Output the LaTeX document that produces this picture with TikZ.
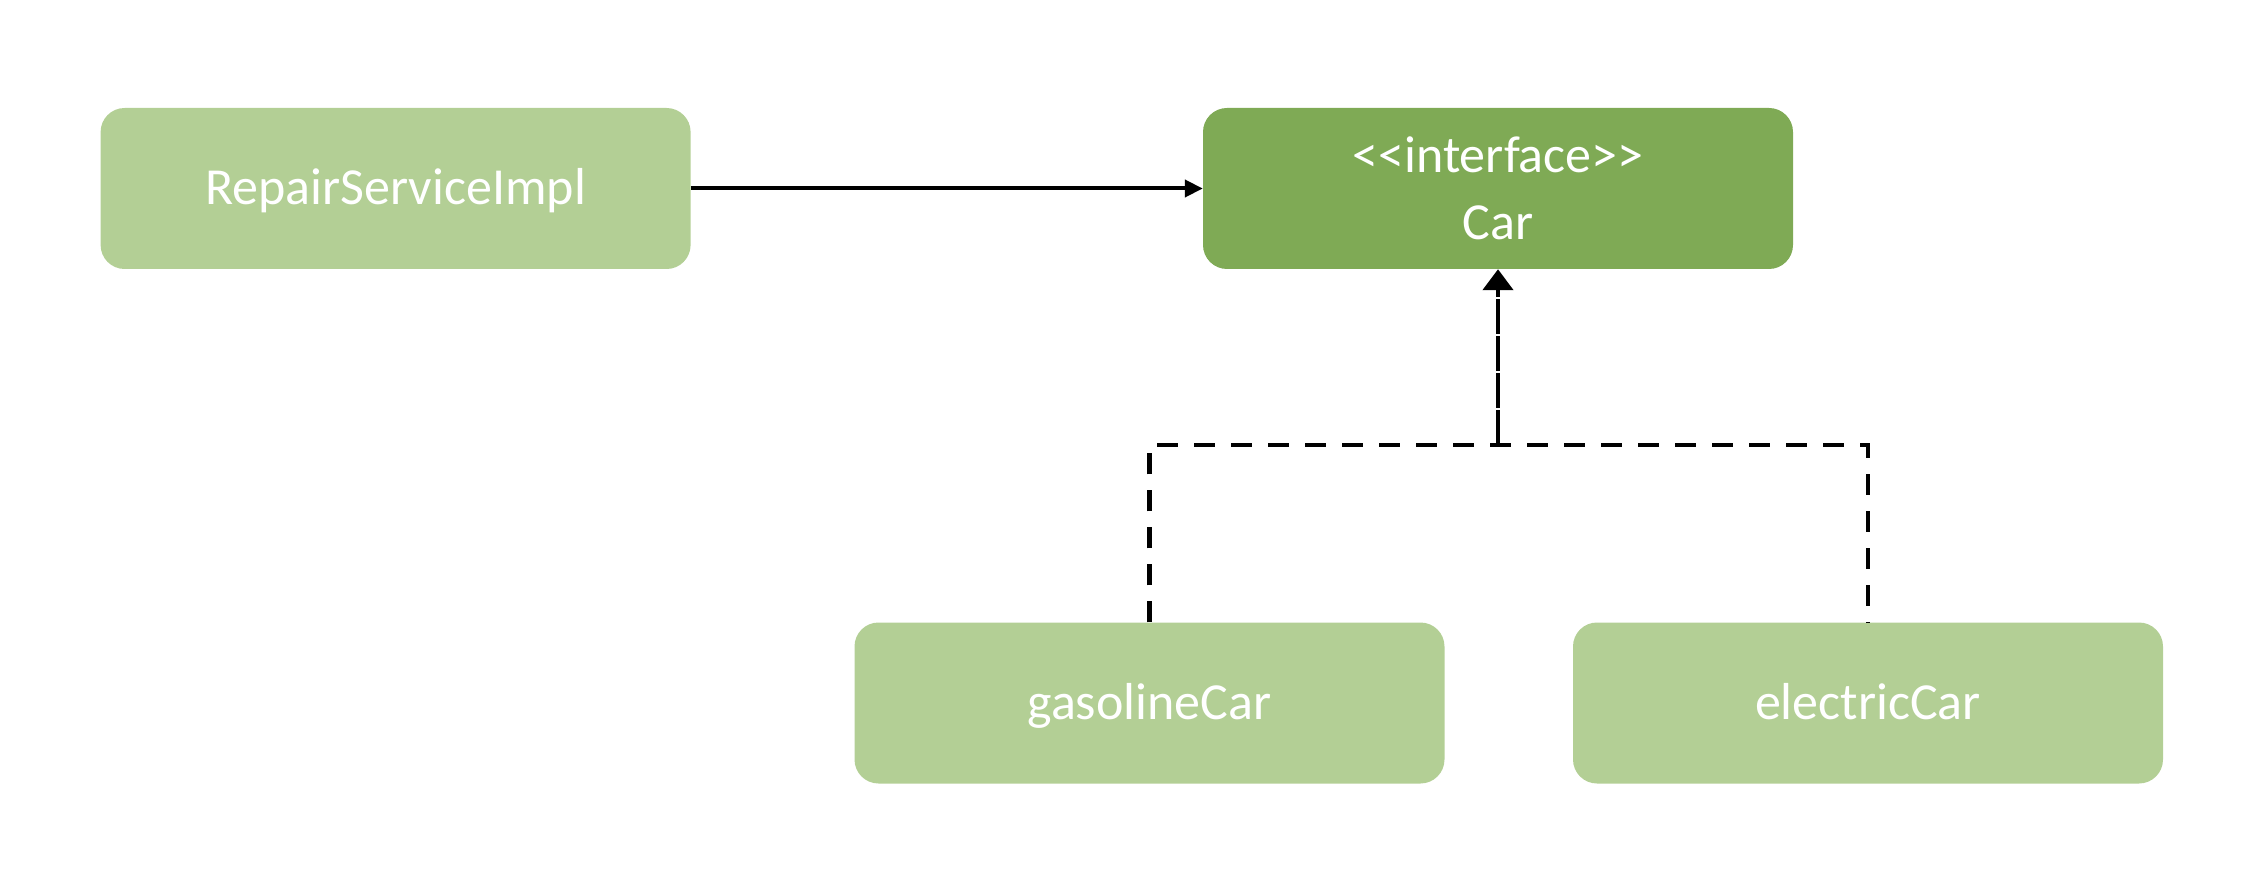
\documentclass[tikz,border=0pt]{standalone}
\usepackage{fontspec}
\setmainfont{Carlito}
\usetikzlibrary{arrows.meta}
\definecolor{lightgreen}{RGB}{179,207,149}
\definecolor{darkgreen}{RGB}{127,170,85}
\begin{document}
\begin{tikzpicture}[x=1pt,y=-1pt,
  box/.style={rectangle, rounded corners=24pt, minimum width=590pt, minimum height=161pt,
    inner sep=0pt, text=white, align=center, font=\fontsize{52}{67}\selectfont},
  lightbox/.style={box, fill=lightgreen, text height=33pt, text depth=0pt},
  darkbox/.style={box, fill=darkgreen},
  assoc/.style={line width=4pt, -{Triangle[length=18pt,width=17pt]}},
  realize/.style={line width=4.5pt, dash pattern=on 21pt off 16pt},
  realizeup/.style={line width=4.5pt, dash pattern=on 35pt off 2pt, -{Triangle[length=21pt,width=30pt]}}
]
\useasboundingbox (0,0) rectangle (2252,890);
\node[lightbox] (rsi) at (395.6,188.5) {RepairServiceImpl};
\node[darkbox] (car) at (1498,188.5) {<\kern0pt<interface>\kern0pt>\\Car};
\node[lightbox] (gas) at (1149.5,703) {gasolineCar};
\node[lightbox] (ele) at (1868,703) {electricCar};
\coordinate (j) at (car.south |- 0,445);
\draw[assoc] (rsi.east) -- (car.west);
\draw[realize] (gas.north) |- (j) -| (ele.north);
\draw[realizeup] (j) -- (car.south);
\end{tikzpicture}
\end{document}
